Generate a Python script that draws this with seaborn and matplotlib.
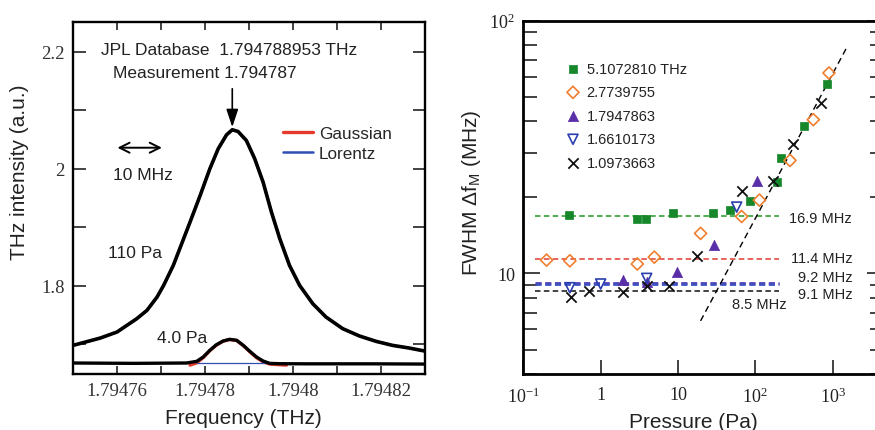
import matplotlib
matplotlib.use("Agg")
import matplotlib.pyplot as plt
import numpy as np
import pandas as pd
import seaborn as sns

# ---------------- left panel data ----------------
freq_110 = [1.79475004, 1.7947562, 1.79476, 1.7947645, 1.7947668, 1.7947691, 1.7947706,
            1.7947728, 1.7947747, 1.7947766, 1.7947789, 1.7947811, 1.794783, 1.7947849,
            1.7947862, 1.7947875, 1.7947894, 1.7947913, 1.7947932, 1.7947951, 1.794797,
            1.7947992, 1.7948015, 1.7948045, 1.7948075, 1.7948113, 1.7948151, 1.7948189,
            1.7948226, 1.7948264, 1.7948299]
int_110 = [1.698, 1.7105, 1.7208, 1.7436, 1.7578, 1.7806, 1.8006, 1.8348, 1.8718, 1.9088,
           1.9544, 2.0000, 2.0342, 2.0581, 2.0667, 2.0638, 2.0484, 2.0171, 1.9772, 1.9259,
           1.8803, 1.8348, 1.8006, 1.7692, 1.7464, 1.7265, 1.714, 1.7048, 1.698, 1.6934, 1.6883]

freq_4 = [1.79475004, 1.7947638, 1.7947758, 1.7947781, 1.7947796, 1.7947811, 1.7947826,
          1.7947841, 1.7947856, 1.7947872, 1.7947887, 1.7947902, 1.7947917, 1.7947932,
          1.7947947, 1.794797, 1.794803, 1.794818, 1.7948299]
int_4 = [1.6678, 1.6672, 1.6678, 1.6706, 1.6781, 1.6895, 1.6991, 1.7054, 1.7083, 1.7066,
         1.698, 1.6877, 1.6781, 1.6712, 1.6672, 1.6666, 1.6664, 1.6664, 1.666]

freq_gauss = [1.7947766, 1.7947781, 1.7947796, 1.7947811, 1.7947826, 1.7947841, 1.7947856,
              1.7947872, 1.7947887, 1.7947902, 1.7947917, 1.7947932, 1.7947947, 1.7947985]
int_gauss = [1.6642, 1.6680, 1.6770, 1.6890, 1.6985, 1.7050, 1.7080, 1.7063, 1.6975,
             1.6870, 1.6770, 1.6700, 1.6660, 1.6642]
freq_base_fit = [1.7947781, 1.7947985]
int_base_fit = [1.6676, 1.6676]

# ---------------- right panel data ----------------
p_510 = [0.39, 2.92, 3.86, 8.7, 28.6, 47, 85.3, 189, 213, 426, 836]
w_510 = [17.1, 16.4, 16.4, 17.3, 17.4, 17.9, 19.3, 23.1, 28.7, 38.3, 56.2]
p_277 = [0.20, 0.40, 2.98, 4.94, 19.6, 66.5, 113, 281, 562, 897]
w_277 = [11.29, 11.22, 10.9, 11.6, 14.4, 16.8, 19.5, 28.0, 40.6, 62.1]
p_179 = [1.96, 3.94, 9.6, 29.2, 106]
w_179 = [9.41, 9.27, 10.15, 13.0, 23.2]
p_166 = [0.40, 1.0, 3.94, 57.4]
w_166 = [8.78, 9.08, 9.56, 18.3]
p_110 = [0.41, 0.71, 1.96, 3.94, 7.73, 17.4, 66.5, 171, 304, 700]
w_110 = [8.09, 8.54, 8.41, 8.91, 8.91, 11.7, 21.2, 23.3, 32.4, 47.3]

series_labels = ["5.1072810 THz", "2.7739755", "1.7947863", "1.6610173", "1.0973663"]
low_p_levels = [16.9, 11.4, 9.2, 9.1, 8.5]
level_labels = ["16.9 MHz", "11.4 MHz", "9.2 MHz", "9.1 MHz", "8.5 MHz"]
level_span = [0.14, 200]
slope_p = [19.6, 1486]
slope_w = [6.49, 77.3]

# ---------------- style ----------------
sns.set_theme(style="ticks")
plt.rcParams["font.family"] = ["Liberation Sans", "DejaVu Sans"]
plt.rcParams["mathtext.fontset"] = "custom"
plt.rcParams["mathtext.rm"] = "Liberation Serif"
plt.rcParams["mathtext.sf"] = "Liberation Sans"
plt.rcParams["mathtext.it"] = "Liberation Serif:italic"

fig = plt.figure(figsize=(8.75, 4.31), dpi=100)
W, H = 875.0, 431.0
ax1 = fig.add_axes([73 / W, (H - 375) / H, 352 / W, 352 / H])
ax2 = fig.add_axes([523.3 / W, (H - 375) / H, 360.7 / W, 353.3 / H])

serif = ["Liberation Serif", "DejaVu Serif"]

# ---------------- left panel ----------------
df_big = pd.DataFrame({"f": freq_110, "I": int_110})
df_small = pd.DataFrame({"f": freq_4, "I": int_4})
df_g = pd.DataFrame({"f": freq_gauss, "I": int_gauss})
df_b = pd.DataFrame({"f": freq_base_fit, "I": int_base_fit})

sns.lineplot(data=df_g, x="f", y="I", ax=ax1, color="#e5392b", lw=2.4, sort=False,
             estimator=None, label="Gaussian")
sns.lineplot(data=df_big, x="f", y="I", ax=ax1, color="#2f4fb3", lw=1.8, sort=False,
             estimator=None, label="Lorentz")
sns.lineplot(data=df_b, x="f", y="I", ax=ax1, color="#2f4fb3", lw=0.9, sort=False,
             estimator=None, legend=False)
sns.lineplot(data=df_big, x="f", y="I", ax=ax1, color="black", lw=2.6, sort=False,
             estimator=None, legend=False)
sns.lineplot(data=df_small, x="f", y="I", ax=ax1, color="black", lw=2.4, sort=False,
             estimator=None, legend=False)

ax1.set_xlim(1.79475, 1.79483)
ax1.set_ylim(1.649, 2.251)
ax1.set_xticks([1.79476, 1.79478, 1.7948, 1.79482])
ax1.set_xticklabels(["1.79476", "1.79478", "1.7948", "1.79482"], fontfamily=serif, fontsize=13.5)
ax1.set_xticks(np.arange(1.79475, 1.794835, 0.00001), minor=True)
ax1.set_yticks([1.8, 2.0, 2.2])
ax1.set_yticklabels(["1.8", "2", "2.2"], fontfamily=serif, fontsize=13.5)
ax1.set_yticks([1.7, 1.9, 2.1], minor=True)
ax1.tick_params(which="both", direction="in", top=True, right=True, width=1.2, colors="#222222")
ax1.tick_params(axis="y", which="both", length=9)
ax1.tick_params(axis="x", which="both", length=6)
ax1.tick_params(axis="both", which="major", pad=6, labelcolor="#333333")
for s in ax1.spines.values():
    s.set_linewidth(1.7)
    s.set_color("black")
ax1.set_xlabel("Frequency (THz)", fontsize=15, color="#222222")
ax1.set_ylabel("THz intensity (a.u.)", fontsize=15, color="#222222")
ax1.xaxis.set_label_coords(0.485, -0.097)
ax1.yaxis.set_label_coords(-0.124, 0.575)

leg1 = ax1.legend(loc="upper left", bbox_to_anchor=(0.597, 0.705), frameon=False,
                  fontsize=12.3, handlelength=1.75, handletextpad=0.35,
                  labelspacing=0.3, borderpad=0, borderaxespad=0)

tk = dict(fontsize=12.5, color="#222222")
ax1.text(0.0795, 0.923, "JPL Database  1.794788953 THz", transform=ax1.transAxes,
         ha="left", va="center", **tk)
ax1.text(0.1128, 0.857, "Measurement 1.794787", transform=ax1.transAxes,
         ha="left", va="center", **tk)
ax1.text(0.1128, 0.568, "10 MHz", transform=ax1.transAxes, ha="left", va="center", **tk)
ax1.text(0.1003, 0.3457, "110 Pa", transform=ax1.transAxes, ha="left", va="center", **tk)
ax1.text(0.2378, 0.104, "4.0 Pa", transform=ax1.transAxes, ha="left", va="center", **tk)
ax1.annotate("", xy=(1.7947862, 2.0712), xytext=(1.7947862, 2.1368),
             arrowprops=dict(arrowstyle="-|>,head_length=0.9,head_width=0.3",
                             color="black", lw=1.2, shrinkA=0, shrinkB=0))
ax1.annotate("", xy=(1.7947601, 2.036), xytext=(1.7947702, 2.036),
             arrowprops=dict(arrowstyle="<->,head_length=0.6,head_width=0.3",
                             color="black", lw=1.4, shrinkA=0, shrinkB=0))

# ---------------- right panel ----------------
level_colors = ["#1f9a1f", "#e03a2f", "#5b3aa8", "#3d52c4", "#111111"]
level_lw = [1.1, 1.1, 2.0, 2.0, 1.1]
for lev, c, lw in zip(low_p_levels, level_colors, level_lw):
    dfl = pd.DataFrame({"p": level_span, "w": [lev, lev]})
    sns.lineplot(data=dfl, x="p", y="w", ax=ax2, color=c, lw=lw, dashes=False,
                 legend=False, estimator=None)
    ax2.lines[-1].set_dashes([3.6, 2.2] if lw < 1.5 else [2.2, 1.3])

dfs = pd.DataFrame({"p": slope_p, "w": slope_w})
sns.lineplot(data=dfs, x="p", y="w", ax=ax2, color="black", lw=1.0, legend=False,
             estimator=None)
ax2.lines[-1].set_dashes([4.5, 3.0])

specs = [
    (p_510, w_510, "s", "#16882a", "#16882a", 38, 0.5),
    (p_277, w_277, "D", "none", "#f07f2f", 38, 1.2),
    (p_179, w_179, "^", "#5a2ea6", "#5a2ea6", 55, 0.5),
    (p_166, w_166, "v", "none", "#2b3fae", 52, 1.2),
    (p_110, w_110, "x", "#111111", "#111111", 55, 1.3),
]
for (px, py, m, fc, ec, s, lw), lab in zip(specs, series_labels):
    dfp = pd.DataFrame({"p": px, "w": py})
    if m == "x":
        sns.scatterplot(data=dfp, x="p", y="w", ax=ax2, marker=m, color=ec, s=s,
                        linewidth=lw, label=lab, zorder=5)
    else:
        sns.scatterplot(data=dfp, x="p", y="w", ax=ax2, marker=m, facecolor=fc,
                        edgecolor=ec, s=s, linewidth=lw, label=lab, zorder=5)

ax2.set_xscale("log")
ax2.set_yscale("log")
ax2.set_xlim(0.1, 10 ** 3.664)
ax2.set_ylim(4.03, 100)
ax2.set_xticks([0.1, 1, 10, 100, 1000])
ax2.set_xticklabels([r"$10^{-1}$", "1", "10", r"$10^{2}$", r"$10^{3}$"], fontfamily=serif,
                    fontsize=13)
ax2.xaxis.set_minor_locator(matplotlib.ticker.NullLocator())
ax2.set_yticks([10, 100])
ax2.set_yticklabels(["10", r"$10^{2}$"], fontfamily=serif, fontsize=13)
ax2.set_yticks([4, 5, 6, 7, 8, 9, 20, 30, 40, 50, 60, 70, 80, 90], minor=True)
ax2.yaxis.set_minor_formatter(matplotlib.ticker.NullFormatter())
ax2.tick_params(which="both", direction="in", top=False, right=True, width=1.2,
                colors="#222222")
ax2.tick_params(axis="y", which="major", length=12)
ax2.tick_params(axis="y", which="minor", length=10)
ax2.tick_params(axis="x", which="major", length=10, pad=9)
ax2.tick_params(axis="y", which="major", pad=6)
for s in ax2.spines.values():
    s.set_linewidth(2.0)
    s.set_color("black")
ax2.set_xlabel("Pressure (Pa)", fontsize=15, color="#222222")
ax2.set_ylabel(r"FWHM Δf$_{\mathsf{M}}$ (MHz)", fontsize=15, color="#222222")
ax2.xaxis.set_label_coords(0.471, -0.107)
ax2.yaxis.set_label_coords(-0.111, 0.515)

leg2 = ax2.legend(loc="upper left", bbox_to_anchor=(0.1175, 0.884), frameon=False,
                  fontsize=10.5, handlelength=1.0, handletextpad=0.44,
                  labelspacing=0.65, borderpad=0, borderaxespad=0)
for t in leg2.get_texts():
    t.set_color("#222222")

lab_pos = [(1790, 16.6), (1790, 11.5), (1790, 9.64), (1790, 8.26), (255, 7.54)]
for (x, y), t in zip(lab_pos, level_labels):
    ax2.text(x, y, t, ha="right", va="center", fontsize=10.5, color="#222222")

fig.savefig("out.png", dpi=100)
